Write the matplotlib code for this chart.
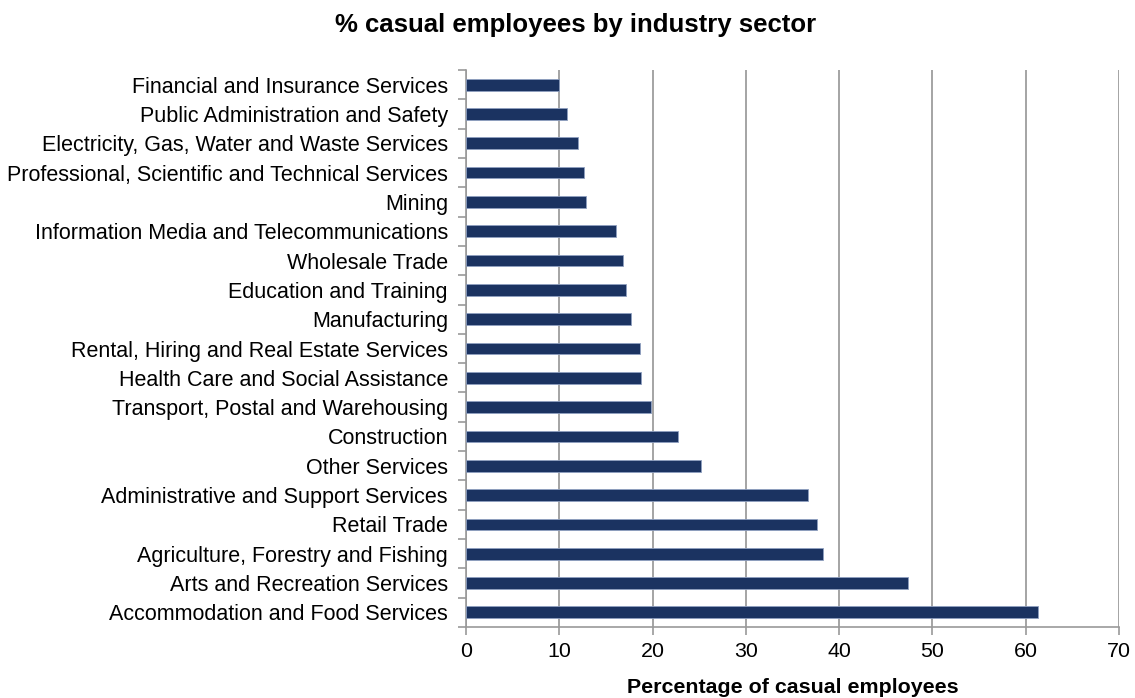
import matplotlib
matplotlib.use("Agg")
import matplotlib.pyplot as plt
import numpy as np

plt.rcParams['font.family'] = ['Liberation Sans', 'DejaVu Sans']

sectors = [
    "Financial and Insurance Services",
    "Public Administration and Safety",
    "Electricity, Gas, Water and Waste Services",
    "Professional, Scientific and Technical Services",
    "Mining",
    "Information Media and Telecommunications",
    "Wholesale Trade",
    "Education and Training",
    "Manufacturing",
    "Rental, Hiring and Real Estate Services",
    "Health Care and Social Assistance",
    "Transport, Postal and Warehousing",
    "Construction",
    "Other Services",
    "Administrative and Support Services",
    "Retail Trade",
    "Agriculture, Forestry and Fishing",
    "Arts and Recreation Services",
    "Accommodation and Food Services",
]
casual_pct = [10.0, 10.8, 12.0, 12.7, 12.9, 16.1, 16.8, 17.1, 17.7, 18.6,
              18.8, 19.8, 22.7, 25.2, 36.7, 37.6, 38.3, 47.4, 61.3]
x_ticks = [0, 10, 20, 30, 40, 50, 60, 70]

fig = plt.figure(figsize=(11.35, 6.98), dpi=100)
ax = fig.add_axes([466 / 1135, 1 - 627 / 698, (1119 - 466) / 1135, (627 - 70) / 698])

n = len(sectors)
ypos = np.arange(n)[::-1]
ax.barh(ypos, casual_pct, height=0.40, color="#1B3361",
        edgecolor="#8FA0C0", linewidth=0.6, zorder=3)

ax.set_xlim(0, 70)
ax.set_ylim(-0.5, n - 0.5)
ax.set_xticks(x_ticks)
ax.set_xticklabels([str(t) for t in x_ticks], fontsize=15.4)
ax.set_yticks(ypos)
ax.set_yticklabels(sectors, fontsize=15.5)
ax.set_yticks(np.arange(-0.5, n, 1.0), minor=True)
ax.tick_params(axis='y', which='major', length=0, pad=13)
ax.tick_params(axis='y', which='minor', length=6, color="#999999", width=1.2)
ax.tick_params(axis='x', which='major', length=6, color="#999999", width=1.2, pad=5)

ax.grid(axis='x', color="#8C8C8C", linewidth=1.1, zorder=0)
for side in ('top', 'right'):
    ax.spines[side].set_visible(False)
for side in ('left', 'bottom'):
    ax.spines[side].set_color("#999999")
    ax.spines[side].set_linewidth(1.2)

ax.set_xlabel("Percentage of casual employees", fontsize=15.4, fontweight='bold', labelpad=12)
fig.suptitle("% casual employees by industry sector", fontsize=18.5, fontweight='bold',
             x=576 / 1135, y=0.982)

fig.savefig("out.png", dpi=100)
